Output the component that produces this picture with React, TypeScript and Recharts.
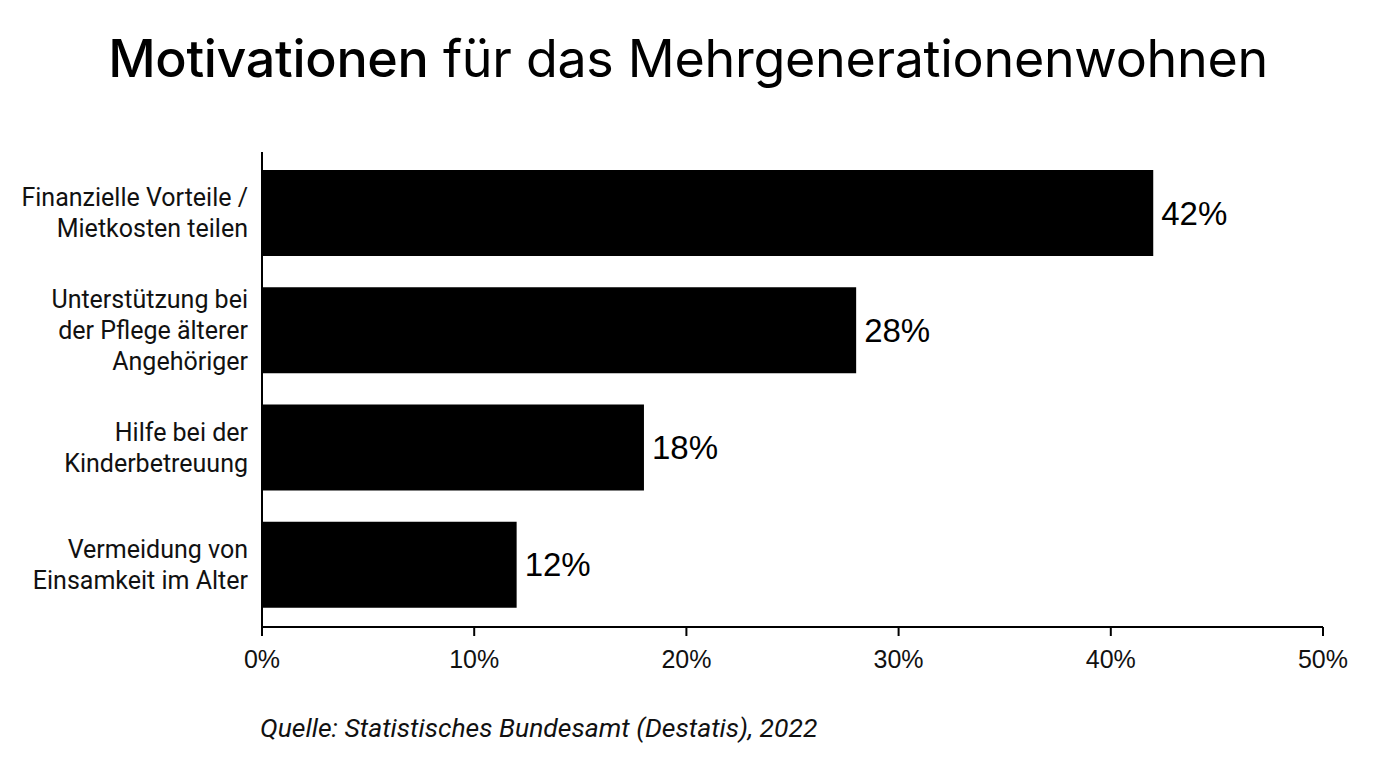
import React from 'react'
import { BarChart, Bar, XAxis, YAxis, LabelList } from 'recharts'

const categories = [
  'Finanzielle Vorteile /\nMietkosten teilen',
  'Unterstützung bei\nder Pflege älterer\nAngehöriger',
  'Hilfe bei der\nKinderbetreuung',
  'Vermeidung von\nEinsamkeit im Alter',
]
const values = [42, 28, 18, 12]
const xTicks = [0, 10, 20, 30, 40, 50]

const data = categories.map((name, i) => ({ name, value: values[i] }))

const CategoryTick = (props: any) => {
  const { x, y, payload } = props
  const lines: string[] = String(payload.value).split('\n')
  const lh = 31
  const start = y - ((lines.length - 1) * lh) / 2
  return (
    <text
      x={x - 6}
      y={start}
      textAnchor="end"
      fontFamily="Roboto, sans-serif"
      fontSize={25}
      fill="#111"
    >
      {lines.map((l, i) => (
        <tspan key={i} x={x - 6} y={start + i * lh} dy={9}>
          {l}
        </tspan>
      ))}
    </text>
  )
}

const PercentTick = (props: any) => {
  const { x, y, payload } = props
  return (
    <text
      x={x}
      y={y + 30}
      textAnchor="middle"
      fontFamily='"Liberation Sans", Arial, sans-serif'
      fontSize={25}
      fill="#111"
    >
      {`${payload.value}%`}
    </text>
  )
}

const App = () => {
  return (
    <div style={{ position: 'absolute', left: 0, top: 0, width: 1376, height: 768, background: '#fff' }}>
      <div
        style={{
          position: 'absolute',
          top: 27,
          left: 0,
          width: 1376,
          textAlign: 'center',
          fontFamily: 'Inter, sans-serif',
          fontWeight: 400,
          fontSize: 52,
          color: '#000',
          letterSpacing: -0.3,
        }}
      >
        <span style={{ fontWeight: 500 }}>Motivationen</span> für das Mehrgenerationenwohnen
      </div>
      <div style={{ position: 'absolute', top: 0, left: 0 }}>
        <BarChart
          width={1376}
          height={768}
          data={data}
          layout="vertical"
          margin={{ top: 152, right: 53, left: 0, bottom: 81 }}
        >
          <XAxis
            type="number"
            domain={[0, 50]}
            ticks={xTicks}
            axisLine={{ stroke: '#000', strokeWidth: 2 }}
            tickLine={{ stroke: '#000', strokeWidth: 2 }}
            tickSize={9}
            tick={<PercentTick />}
            height={60}
          />
          <YAxis
            type="category"
            dataKey="name"
            width={262}
            padding={{ top: 2, bottom: 4 }}
            axisLine={{ stroke: '#000', strokeWidth: 2 }}
            tickLine={false}
            tick={<CategoryTick />}
          />
          <Bar dataKey="value" fill="#000" barSize={86} isAnimationActive={false}>
            <LabelList
              dataKey="value"
              position="right"
              offset={8}
              formatter={(v: any) => `${v}%`}
              style={{ fontFamily: '"Liberation Sans", Arial, sans-serif', fontSize: 33, fill: '#000' }}
            />
          </Bar>
        </BarChart>
      </div>
      <div
        style={{
          position: 'absolute',
          top: 712,
          left: 260,
          fontFamily: 'Roboto, sans-serif',
          fontStyle: 'italic',
          fontSize: 26.5,
          color: '#111',
        }}
      >
        Quelle: Statistisches Bundesamt (Destatis), 2022
      </div>
    </div>
  )
}

export default App
